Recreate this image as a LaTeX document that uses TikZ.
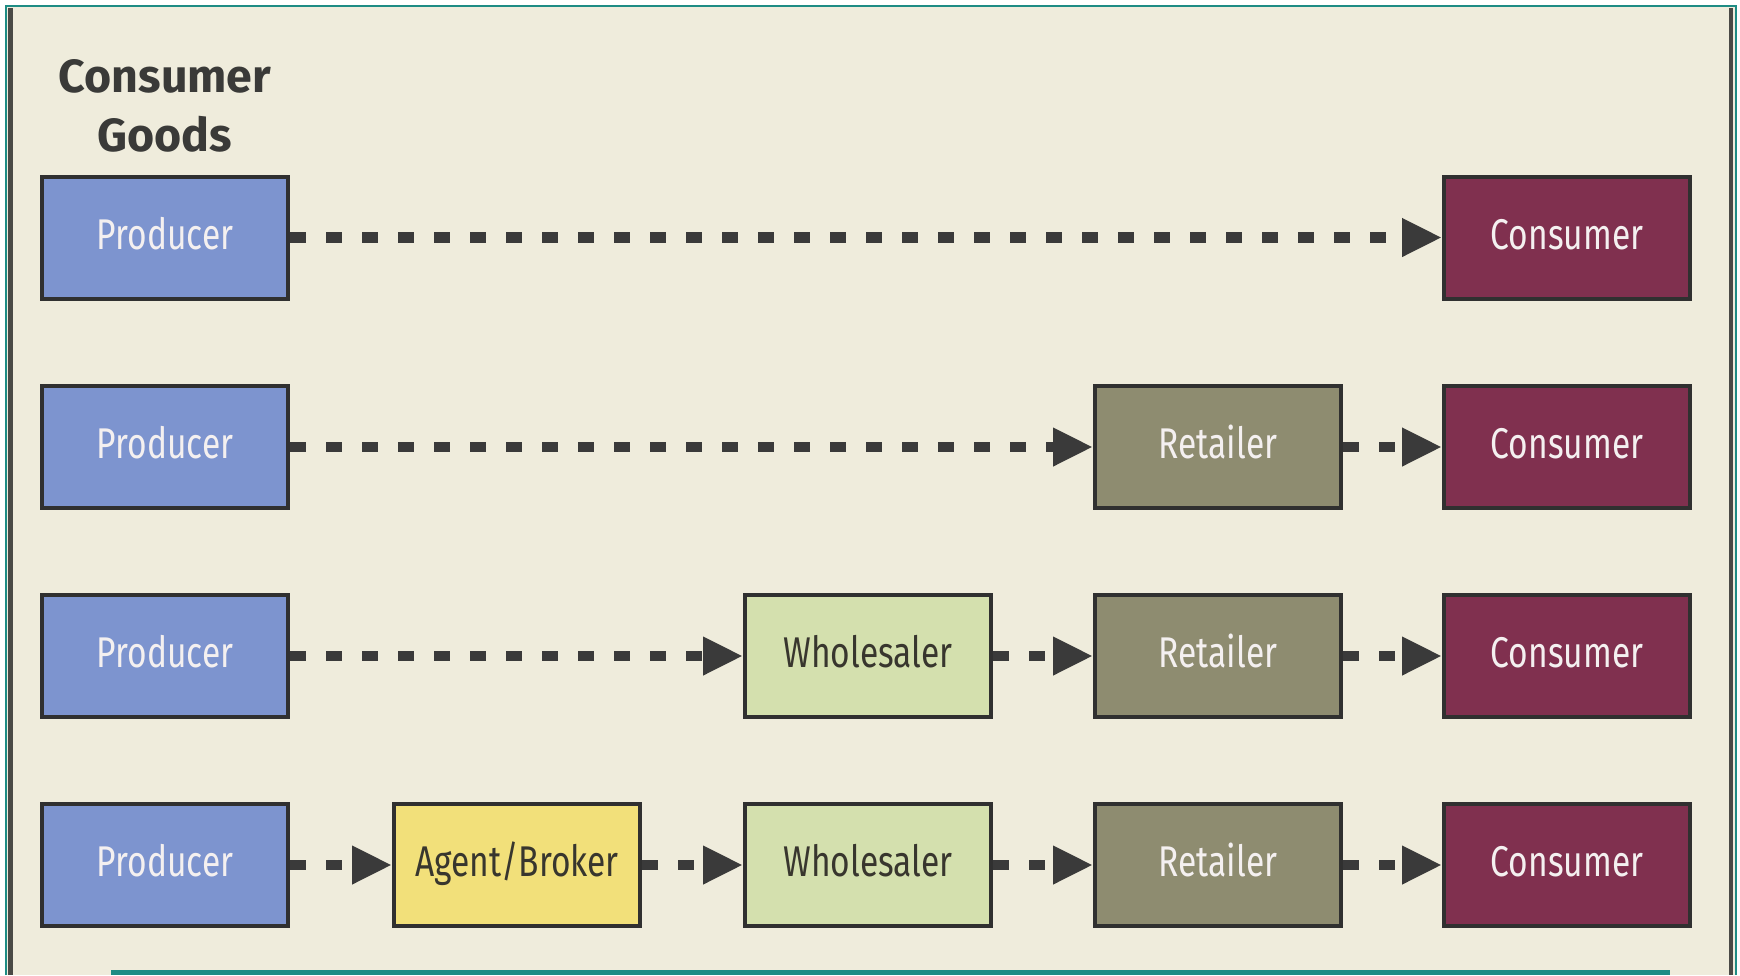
\documentclass[tikz,border=0pt]{standalone}
\usepackage{fontspec}
\usetikzlibrary{arrows.meta}
\newfontfamily\boxfont[FakeStretch=0.78]{Fira Sans}
\newfontfamily\headfont{Fira Sans}
\definecolor{bgcream}{HTML}{EFECDC}
\definecolor{frameteal}{HTML}{1E8C84}
\definecolor{framegray}{HTML}{4A4A46}
\definecolor{boxline}{HTML}{303030}
\definecolor{arrowgray}{HTML}{3A3A3A}
\definecolor{prodblue}{HTML}{7D94CF}
\definecolor{consmaroon}{HTML}{80304F}
\definecolor{retolive}{HTML}{8E8C70}
\definecolor{wholegreen}{HTML}{D4E0AE}
\definecolor{agentyellow}{HTML}{F2E07A}
\definecolor{lighttext}{HTML}{F4F0F0}
\definecolor{darktext}{HTML}{38362E}
\definecolor{titletext}{HTML}{3A3A38}
\begin{document}
\begin{tikzpicture}[x=1pt,y=-1pt,
  chbox/.style={draw=boxline, line width=4pt, minimum width=246pt, minimum height=122pt,
    inner sep=0pt, font=\boxfont\fontsize{43}{50}\selectfont, text height=29pt, text depth=6pt},
  producer/.style={chbox, fill=prodblue, text=lighttext},
  consumer/.style={chbox, fill=consmaroon, text=lighttext},
  retailer/.style={chbox, fill=retolive, text=lighttext},
  wholesaler/.style={chbox, fill=wholegreen, text=darktext},
  agent/.style={chbox, fill=agentyellow, text=darktext},
  flow/.style={draw=arrowgray, line width=10.5pt, dash pattern=on 16pt off 20pt,
    -{Triangle[length=40pt,width=36pt]}},
  titlestyle/.style={font=\headfont\bfseries\fontsize{46.5}{56}\selectfont, text=titletext, anchor=base, inner sep=0pt}
]
\useasboundingbox (0,0) rectangle (1740,975);
\fill[white] (0,0) rectangle (1740,975);
\fill[bgcream] (6,6) rectangle (1736,975);
% frame
\draw[frameteal, line width=2.5pt] (6,975) -- (6,6) -- (1736,6) -- (1736,975);
\draw[framegray, line width=5pt] (10.5,8) -- (10.5,975);
\draw[framegray, line width=4pt] (1730.5,8) -- (1730.5,975);
\fill[frameteal] (111,970) rectangle (1670,975);
% title
\node[titlestyle] (t1) at (165,92) {Consumer};
\node[titlestyle] (t2) at (165,151) {Goods};
% row 1
\node[producer] (p1) at (165,237.5) {Producer};
\node[consumer] (c1) at (1567,237.5) {Consumer};
% row 2
\node[producer] (p2) at (165,447) {Producer};
\node[retailer] (r2) at (1218,447) {Retailer};
\node[consumer] (c2) at (1567,447) {Consumer};
% row 3
\node[producer] (p3) at (165,656) {Producer};
\node[wholesaler] (w3) at (868,656) {Wholesaler};
\node[retailer] (r3) at (1218,656) {Retailer};
\node[consumer] (c3) at (1567,656) {Consumer};
% row 4
\node[producer] (p4) at (165,865) {Producer};
\node[agent] (a4) at (517,865) {Agent/Broker};
\node[wholesaler] (w4) at (868,865) {Wholesaler};
\node[retailer] (r4) at (1218,865) {Retailer};
\node[consumer] (c4) at (1567,865) {Consumer};
% connectors
\draw[flow] (p1.east) -- (c1.west);
\draw[flow] (p2.east) -- (r2.west);
\draw[flow] (r2.east) -- (c2.west);
\draw[flow] (p3.east) -- (w3.west);
\draw[flow] (w3.east) -- (r3.west);
\draw[flow] (r3.east) -- (c3.west);
\draw[flow] (p4.east) -- (a4.west);
\draw[flow] (a4.east) -- (w4.west);
\draw[flow] (w4.east) -- (r4.west);
\draw[flow] (r4.east) -- (c4.west);
\end{tikzpicture}
\end{document}
